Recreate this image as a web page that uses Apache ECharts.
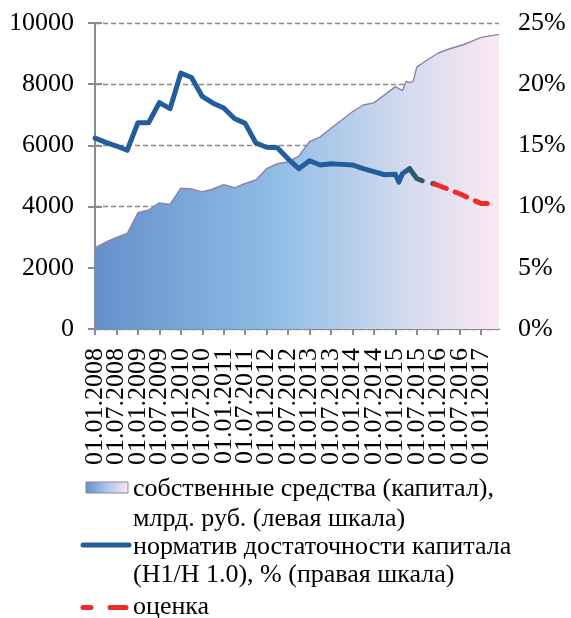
<!DOCTYPE html>
<html>
<head>
<meta charset="utf-8">
<script src="https://cdn.jsdelivr.net/npm/echarts@6/dist/echarts.min.js"></script>
<style>
  html, body { margin: 0; padding: 0; background: #fff; }
  #chart { width: 571px; height: 618px; }
</style>
</head>
<body>
<div id="chart"></div>
<script>
// Tick labels along the date axis (every 6 months)
const xTickLabels = ['01.01.2008','01.07.2008','01.01.2009','01.07.2009','01.01.2010','01.07.2010',
  '01.01.2011','01.07.2011','01.01.2012','01.07.2012','01.01.2013','01.07.2013','01.01.2014',
  '01.07.2014','01.01.2015','01.07.2015','01.01.2016','01.07.2016','01.01.2017'];

// Own funds (capital), bn RUB — left scale
const capitalDates = ['2008-01','2008-04','2008-07','2008-10','2009-01','2009-04','2009-07','2009-10',
  '2010-01','2010-04','2010-07','2010-10','2011-01','2011-04','2011-07','2011-10',
  '2012-01','2012-04','2012-07','2012-10','2013-01','2013-04','2013-07','2013-10',
  '2014-01','2014-04','2014-07','2014-10','2015-01','2015-03','2015-04','2015-05','2015-06',
  '2015-07','2015-10','2016-01','2016-04','2016-08','2016-11','2017-01','2017-06'];
const capitalValues = [2650, 2840, 2990, 3120, 3800, 3890, 4120, 4070,
  4600, 4580, 4480, 4575, 4720, 4615, 4755, 4870,
  5240, 5400, 5460, 5650, 6120, 6280, 6560, 6830,
  7100, 7320, 7390, 7650, 7920, 7790, 8090, 8050, 8090,
  8560, 8800, 9020, 9150, 9290, 9430, 9530, 9630];

// Capital adequacy ratio (N1 / N1.0), % — right scale
const ratioDates = ['2008-01','2008-04','2008-07','2008-10','2009-01','2009-04','2009-07','2009-10',
  '2010-01','2010-04','2010-07','2010-10','2011-01','2011-04','2011-07','2011-10',
  '2012-01','2012-04','2012-07','2012-10','2013-01','2013-04','2013-07','2013-10',
  '2014-01','2014-04','2014-07','2014-10','2015-01','2015-02','2015-03','2015-05'];
const ratioValues = [15.6, 15.25, 14.95, 14.6, 16.85, 16.85, 18.5, 18.0,
  20.9, 20.55, 19.0, 18.45, 18.05, 17.2, 16.8, 15.2,
  14.85, 14.8, 13.9, 13.1, 13.75, 13.4, 13.5, 13.45,
  13.4, 13.1, 12.85, 12.6, 12.65, 12.0, 12.7, 13.1];

// Latest reported ratio values
const recentDates = ['2015-05','2015-07','2015-09','2015-12'];
const recentValues = [13.1, 12.3, 12.05, 11.85];

// Estimate (оценка)
const estimateDates = ['2015-12','2016-07','2017-01','2017-04'];
const estimateValues = [11.85, 11.05, 10.25, 10.25];

const FONT = '"Liberation Serif", "Times New Roman", serif';

// month index counted from January 2008
function monthIndex(s) {
  const [y, m] = s.split('-').map(Number);
  return (y - 2008) * 12 + (m - 1);
}
function pairs(dates, values) {
  return dates.map((d, i) => [monthIndex(d), values[i]]);
}

const areaGradient = new echarts.graphic.LinearGradient(0, 0, 1, 0, [
  { offset: 0, color: '#6590cb' },
  { offset: 0.45, color: '#8fbde6' },
  { offset: 0.75, color: '#d0d9ee' },
  { offset: 1, color: '#fbe8f1' }
]);
const legendGradient = new echarts.graphic.LinearGradient(0, 0, 1, 0, [
  { offset: 0, color: '#6590cb' },
  { offset: 0.5, color: '#a9c8ea' },
  { offset: 1, color: '#fbe8f1' }
]);

const axisGray = '#8c8c8c';

// Date labels are split between two overlaid axes (January / July ticks)
// so neighbouring vertical labels never collide in the min/max label check.
function dateAxis(parity, visibleLine) {
  return {
    type: 'value',
    min: 0,
    max: 113,
    interval: 6,
    position: 'bottom',
    axisLine: { show: visibleLine, onZero: false, lineStyle: { color: axisGray, width: 2 } },
    axisTick: { show: visibleLine, length: 6, lineStyle: { color: axisGray, width: 2 } },
    splitLine: { show: false },
    axisLabel: {
      rotate: 90,
      margin: 19,
      color: '#000',
      fontFamily: FONT,
      fontSize: 26,
      showMinLabel: parity === 0,
      showMaxLabel: false,
      formatter: v => {
        if (v % 6 !== 0) return '';
        const k = v / 6;
        return k % 2 === parity ? (xTickLabels[k] || '') : '';
      }
    }
  };
}

const chart = echarts.init(document.getElementById('chart'), null, { renderer: 'canvas' });
chart.setOption({
  animation: false,
  backgroundColor: '#fff',
  grid: { left: 95, right: 72, top: 23, bottom: 289 },
  xAxis: [dateAxis(0, true), dateAxis(1, false)],
  yAxis: [
    {
      type: 'value',
      min: 0,
      max: 10000,
      interval: 2000,
      axisLine: { show: true, lineStyle: { color: axisGray, width: 2 } },
      axisTick: { show: true, length: 7, lineStyle: { color: axisGray, width: 2 } },
      splitLine: { show: true, lineStyle: { color: '#8a8a8a', width: 1.3, type: [5, 3] } },
      axisLabel: { margin: 21, color: '#000', fontFamily: FONT, fontSize: 26, formatter: v => String(v) }
    },
    {
      type: 'value',
      min: 0,
      max: 25,
      interval: 5,
      position: 'right',
      axisLine: { show: true, lineStyle: { color: axisGray, width: 2 } },
      axisTick: { show: true, length: 7, lineStyle: { color: axisGray, width: 2 } },
      splitLine: { show: false },
      axisLabel: { margin: 19, color: '#000', fontFamily: FONT, fontSize: 26, formatter: '{value}%' }
    }
  ],
  series: [
    {
      name: 'собственные средства (капитал), млрд. руб. (левая шкала)',
      type: 'line',
      xAxisIndex: 0,
      yAxisIndex: 0,
      data: pairs(capitalDates, capitalValues),
      showSymbol: false,
      lineStyle: { color: '#8f80a8', width: 1.4 },
      areaStyle: { color: areaGradient, opacity: 1 },
      z: 1
    },
    {
      name: 'норматив достаточности капитала (Н1/Н 1.0), % (правая шкала)',
      type: 'line',
      xAxisIndex: 0,
      yAxisIndex: 1,
      data: pairs(ratioDates, ratioValues),
      showSymbol: false,
      lineStyle: { color: '#245d9b', width: 5, join: 'round', cap: 'round' },
      z: 3
    },
    {
      name: 'recent',
      type: 'line',
      xAxisIndex: 0,
      yAxisIndex: 1,
      data: pairs(recentDates, recentValues),
      showSymbol: false,
      lineStyle: { color: '#2c5c6c', width: 5, type: [18, 11], join: 'round', cap: 'round' },
      z: 3
    },
    {
      name: 'оценка',
      type: 'line',
      xAxisIndex: 0,
      yAxisIndex: 1,
      data: pairs(estimateDates, estimateValues),
      showSymbol: false,
      lineStyle: { color: '#ee2b2b', width: 5, type: [12.5, 9.5], join: 'round', cap: 'round' },
      z: 4
    }
  ],
  graphic: [
    { type: 'rect', shape: { x: 86, y: 482, width: 42, height: 11 },
      style: { fill: legendGradient, stroke: '#8f80a8', lineWidth: 1 } },
    { type: 'line', shape: { x1: 83, y1: 545, x2: 129, y2: 545 },
      style: { stroke: '#245d9b', lineWidth: 5, lineCap: 'round' } },
    { type: 'line', shape: { x1: 83, y1: 607.5, x2: 91, y2: 607.5 },
      style: { stroke: '#ee2b2b', lineWidth: 5, lineCap: 'round' } },
    { type: 'line', shape: { x1: 110, y1: 607.5, x2: 126, y2: 607.5 },
      style: { stroke: '#ee2b2b', lineWidth: 5, lineCap: 'round' } },
    { type: 'text', x: 133, y: 489, style: { text: 'собственные средства (капитал),', font: '26px ' + FONT, fill: '#000', verticalAlign: 'middle' } },
    { type: 'text', x: 133, y: 519, style: { text: 'млрд. руб. (левая шкала)', font: '26px ' + FONT, fill: '#000', verticalAlign: 'middle' } },
    { type: 'text', x: 133, y: 547, style: { text: 'норматив достаточности капитала', font: '26px ' + FONT, fill: '#000', verticalAlign: 'middle' } },
    { type: 'text', x: 133, y: 575, style: { text: '(Н1/Н 1.0), % (правая шкала)', font: '26px ' + FONT, fill: '#000', verticalAlign: 'middle' } },
    { type: 'text', x: 133, y: 607, style: { text: 'оценка', font: '26px ' + FONT, fill: '#000', verticalAlign: 'middle' } }
  ]
});
</script>
</body>
</html>
